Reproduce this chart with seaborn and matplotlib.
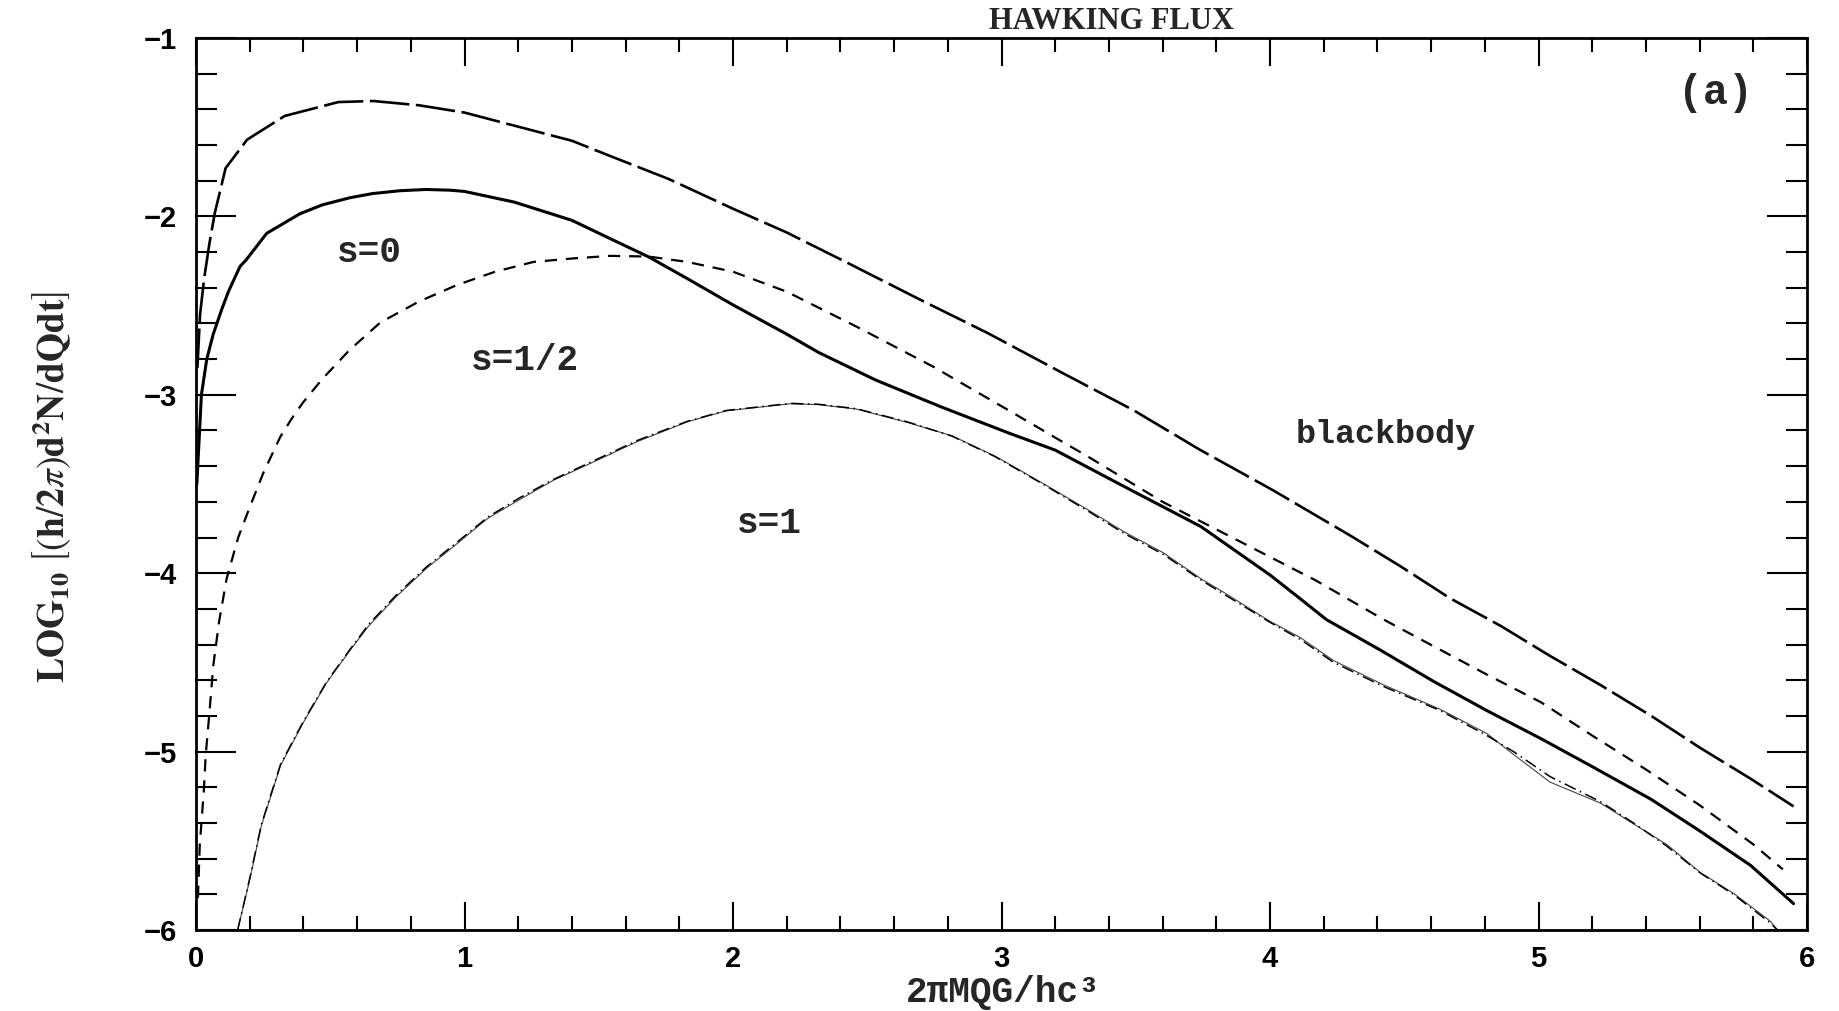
import matplotlib
matplotlib.use("Agg")
import matplotlib.pyplot as plt
import seaborn as sns
from matplotlib.ticker import MultipleLocator

# Values (x = 2piMQG/hc^3, y = log10 flux)
bb_x = [0.005, 0.015, 0.03, 0.05, 0.07, 0.11, 0.19, 0.33, 0.53, 0.66, 0.83, 1.0,
        1.19, 1.4, 1.54, 1.76, 2.0, 2.2, 2.43, 2.7, 2.95, 3.23, 3.49, 3.74, 4.01,
        4.3, 4.49, 4.67, 4.86, 5.04, 5.23, 5.42, 5.6, 5.79, 5.95]
bb_y = [-2.85, -2.55, -2.35, -2.15, -1.98, -1.73, -1.57, -1.437, -1.359, -1.353,
        -1.377, -1.418, -1.493, -1.576, -1.66, -1.79, -1.957, -2.09, -2.263, -2.469,
        -2.655, -2.88, -3.085, -3.309, -3.534, -3.79, -3.965, -4.14, -4.296, -4.461,
        -4.626, -4.80, -4.977, -5.152, -5.307]

s0_x = [0.003, 0.02, 0.04, 0.064, 0.096, 0.121, 0.164, 0.186, 0.263, 0.387, 0.471,
        0.574, 0.657, 0.76, 0.857, 0.946, 1.0, 1.186, 1.4, 1.543, 1.686, 1.829, 2.0,
        2.2, 2.318, 2.531, 2.774, 3.03, 3.2, 3.458, 3.743, 4.0, 4.11, 4.21, 4.41,
        4.61, 4.81, 5.01, 5.2, 5.42, 5.6, 5.79, 5.95]
s0_y = [-3.5, -3.0, -2.8, -2.66, -2.52, -2.42, -2.28, -2.245, -2.095, -1.985, -1.935,
        -1.895, -1.872, -1.856, -1.849, -1.853, -1.86, -1.92, -2.022, -2.125, -2.227,
        -2.348, -2.496, -2.66, -2.762, -2.917, -3.067, -3.216, -3.31, -3.515, -3.739,
        -4.01, -4.14, -4.26, -4.43, -4.607, -4.772, -4.928, -5.084, -5.268, -5.444,
        -5.638, -5.852]

s12_x = [0.007, 0.014, 0.029, 0.036, 0.05, 0.064, 0.086, 0.114, 0.157, 0.2, 0.25,
         0.314, 0.36, 0.4, 0.471, 0.571, 0.686, 0.829, 0.971, 1.114, 1.257, 1.4,
         1.543, 1.686, 1.829, 2.0, 2.2, 2.46, 2.745, 3.03, 3.2, 3.315, 3.6, 3.885,
         4.17, 4.42, 4.61, 4.81, 5.01, 5.2, 5.4, 5.6, 5.8, 5.91]
s12_y = [-5.82, -5.52, -5.22, -5.02, -4.78, -4.52, -4.27, -4.03, -3.8, -3.63, -3.44,
         -3.235, -3.125, -3.04, -2.91, -2.75, -2.595, -2.478, -2.385, -2.31, -2.255,
         -2.236, -2.221, -2.225, -2.255, -2.31, -2.422, -2.618, -2.842, -3.09, -3.24,
         -3.34, -3.6, -3.82, -4.04, -4.257, -4.41, -4.57, -4.724, -4.91, -5.10,
         -5.30, -5.52, -5.66]

s1_x = [0.155, 0.2, 0.243, 0.315, 0.4, 0.486, 0.572, 0.644, 0.744, 0.858, 0.973,
        1.087, 1.202, 1.33, 1.488, 1.645, 1.831, 1.974, 2.215, 2.318, 2.46, 2.65,
        2.816, 2.974, 3.148, 3.318, 3.46, 3.6, 3.745, 3.82, 4.0, 4.112, 4.237,
        4.423, 4.634, 4.808, 4.907, 5.043, 5.23, 5.354, 5.478, 5.602, 5.726, 5.863,
        5.89]
s1_y = [-6.0, -5.719, -5.418, -5.077, -4.836, -4.615, -4.435, -4.294, -4.134, -3.973,
        -3.833, -3.692, -3.59, -3.48, -3.371, -3.261, -3.151, -3.09, -3.05, -3.055,
        -3.08, -3.155, -3.23, -3.342, -3.491, -3.641, -3.771, -3.883, -4.033, -4.1,
        -4.27, -4.36, -4.49, -4.626, -4.763, -4.899, -5.016, -5.171, -5.288, -5.405,
        -5.521, -5.677, -5.794, -5.95, -6.0]
# dash-dot companion of s=1, nearly on top of the thin line
s1_dd_y = [-6.0, -5.71, -5.41, -5.07, -4.83, -4.61, -4.43, -4.285, -4.125, -3.965,
           -3.825, -3.685, -3.58, -3.475, -3.365, -3.255, -3.148, -3.088, -3.048,
           -3.053, -3.078, -3.152, -3.232, -3.345, -3.495, -3.648, -3.78, -3.892,
           -4.04, -4.11, -4.275, -4.37, -4.5, -4.635, -4.77, -4.91, -5.0, -5.14,
           -5.28, -5.4, -5.53, -5.68, -5.80, -5.96, -6.0]

sns.set_theme(style="ticks")
plt.rcParams["font.family"] = ["Liberation Sans", "DejaVu Sans"]
plt.rcParams["mathtext.fontset"] = "stix"

fig = plt.figure(figsize=(18.39, 10.11), dpi=100)
ax = fig.add_axes([0.1066, 0.0801, 0.8760, 0.8823])

sns.lineplot(x=bb_x, y=bb_y, ax=ax, color="black", lw=1.9,
             linestyle=(0, (15, 2.5)), sort=False, estimator=None)
sns.lineplot(x=s0_x, y=s0_y, ax=ax, color="black", lw=2.2,
             sort=False, estimator=None)
sns.lineplot(x=s12_x, y=s12_y, ax=ax, color="black", lw=1.6,
             linestyle=(0, (5.5, 4)), sort=False, estimator=None)
sns.lineplot(x=s1_x, y=s1_y, ax=ax, color="#444444", lw=0.8,
             sort=False, estimator=None)
sns.lineplot(x=s1_x, y=s1_dd_y, ax=ax, color="black", lw=1.1,
             linestyle=(0, (8, 3, 1, 3)), sort=False, estimator=None)

ax.set_xlim(0, 6)
ax.set_ylim(-6, -1)
ax.xaxis.set_major_locator(MultipleLocator(1))
ax.xaxis.set_minor_locator(MultipleLocator(0.2))
ax.yaxis.set_major_locator(MultipleLocator(1))
ax.yaxis.set_minor_locator(MultipleLocator(0.2))

ax.tick_params(which="both", direction="in", top=True, right=True,
               width=1.5, color="black", labelsize=21, labelcolor="black")
ax.tick_params(axis="x", which="major", length=20, pad=11)
ax.tick_params(axis="x", which="minor", length=10)
ax.tick_params(axis="y", which="major", length=29, pad=14)
ax.tick_params(axis="y", which="minor", length=15)
for lab in ax.get_xticklabels() + ax.get_yticklabels():
    lab.set_fontweight("bold")
for sp in ax.spines.values():
    sp.set_linewidth(2)
    sp.set_color("black")

mono = ["Liberation Mono", "DejaVu Sans Mono"]
txt = dict(family=mono, fontweight="bold", ha="center", va="center")
ax.text(0.645, -2.2, "s=0", fontsize=26, **txt)
ax.text(1.226, -2.81, "s=1/2", fontsize=26, **txt)
ax.text(2.135, -3.72, "s=1", fontsize=26, **txt)
ax.text(4.43, -3.22, "blackbody", fontsize=24, **txt)
ax.text(5.66, -1.31, "(a)", fontsize=30, **txt)
ax.text(3.41, 1.019, "HAWKING FLUX", transform=ax.get_xaxis_transform(),
        family=["Liberation Serif"], fontweight="bold", fontsize=22,
        ha="center", va="center")

ax.set_xlabel("2πMQG/hc³", family=mono, fontweight="bold", fontsize=26)
ax.xaxis.set_label_coords(0.501, -0.05)
ax.set_ylabel(r"$\mathbf{LOG}_{\mathbf{10}}\ \left[(\mathbf{h}/\mathbf{2}\pi)"
              r"\mathbf{d}^{\mathbf{2}}\mathbf{N}/\mathbf{dQdt}\right]$",
              fontsize=27)
ax.yaxis.set_label_coords(-0.076, 0.497)

fig.savefig("out.png", dpi=100, facecolor="white")
